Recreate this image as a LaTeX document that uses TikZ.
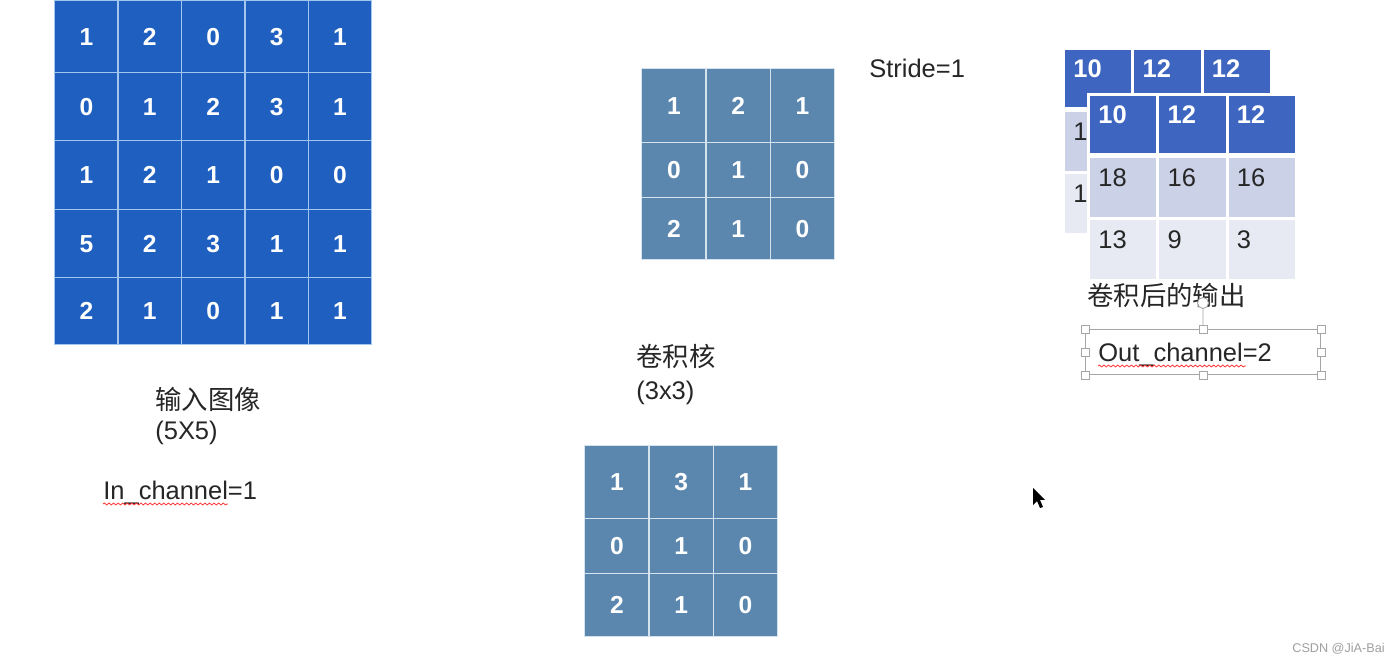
\documentclass[tikz,border=0pt]{standalone}
\usepackage{fontspec}
\setmainfont{Liberation Sans}
\newfontfamily\cjk{Noto Sans CJK SC}
\usepackage{xcolor}
\usepackage{tikz}
\usetikzlibrary{positioning, calc, decorations.pathmorphing}
\definecolor{inblue}{HTML}{1F5FBF}
\definecolor{inline}{HTML}{A3C6EE}
\definecolor{kblue}{HTML}{5B86AD}
\definecolor{kline}{HTML}{D5E3EF}
\definecolor{outhead}{HTML}{3E65BF}
\definecolor{outmid}{HTML}{CBD1E7}
\definecolor{outlow}{HTML}{E7E9F3}
\tikzstyle{cell} = [rectangle, anchor=north west, inner sep=0pt, line width=0.8pt]
\tikzstyle{incell} = [cell, draw=inline, fill=inblue, text=white, minimum width=1.268cm, font=\bfseries\fontsize{14}{14}\selectfont]
\tikzstyle{kcell} = [cell, draw=kline, fill=kblue, text=white, minimum width=1.286cm, font=\bfseries\fontsize{14}{14}\selectfont]
\tikzstyle{outcell} = [cell, draw=white, line width=1.8pt, minimum width=1.386cm, minimum height=1.24cm]
\tikzstyle{headnum} = [anchor=base west, inner sep=0pt, text=white, font=\bfseries\fontsize{14.5}{14}\selectfont]
\tikzstyle{bodynum} = [anchor=base west, inner sep=0pt, text=black!85, font=\fontsize{14.5}{14}\selectfont]
\tikzstyle{txt} = [anchor=base west, inner sep=0pt, text=black!85, font=\fontsize{14.5}{17}\selectfont]
\tikzstyle{cjktxt} = [txt, font=\cjk\fontsize{15}{18}\selectfont]
\tikzstyle{selbox} = [rectangle, draw=gray!70, line width=0.6pt, anchor=north west, inner sep=0pt, minimum width=4.7cm, minimum height=0.9cm]
\tikzstyle{handle} = [rectangle, draw=gray!70, fill=white, line width=0.5pt, minimum size=0.16cm, inner sep=0pt]
\tikzstyle{rothandle} = [circle, draw=gray!70, fill=white, line width=0.5pt, minimum size=0.22cm, inner sep=0pt]
\tikzstyle{squiggle} = [draw=red!80, line width=0.45pt, decorate, decoration={snake, amplitude=0.55pt, segment length=2.6pt}]

\begin{document}
\begin{tikzpicture}[x=0.02cm, y=-0.02cm]
    \useasboundingbox (0,0) rectangle (1394,665);
    \fill[white] (0,0) rectangle (1394,665);

    % Input image 5x5
    \foreach \yt/\h/\vals [count=\r] in {0/72/{1,2,0,3,1}, 72/68/{0,1,2,3,1}, 140/69/{1,2,1,0,0}, 209/68/{5,2,3,1,1}, 277/67/{2,1,0,1,1}} {
        \foreach \v [count=\c] in \vals {
            \node (in-\r-\c) [incell, minimum height=\h*0.02cm] at ({54+63.4*(\c-1)}, \yt) {\v};
        }
    }

    % Kernels 3x3
    \foreach \yt/\h/\vals [count=\r] in {0/74/{1,2,1}, 74/55/{0,1,0}, 129/62/{2,1,0}} {
        \foreach \v [count=\c] in \vals {
            \node (ka-\r-\c) [kcell, minimum height=\h*0.02cm] at ({641+64.3*(\c-1)}, {68+\yt}) {\v};
        }
    }
    \foreach \yt/\h/\vals [count=\r] in {0/73/{1,3,1}, 73/55/{0,1,0}, 128/63/{2,1,0}} {
        \foreach \v [count=\c] in \vals {
            \node (kb-\r-\c) [kcell, minimum height=\h*0.02cm] at ({584+64.3*(\c-1)}, {445+\yt}) {\v};
        }
    }

    % Output maps (two channels)
    \foreach \tbl/\ox/\oy in {back/1062/47, front/1087/93} {
        \foreach \v [count=\c] in {10,12,12} {
            \node (\tbl-h-\c) [outcell, fill=outhead, minimum height=1.2cm] at ({\ox+69.3*(\c-1)}, \oy) {};
            \node (\tbl-h-\c-v) [headnum] at ({\ox+69.3*(\c-1)+11}, {\oy+31}) {\v};
        }
        \foreach \yt/\fillc/\vals [count=\r] in {62/outmid/{18,16,16}, 124/outlow/{13,9,3}} {
            \foreach \v [count=\c] in \vals {
                \node (\tbl-\r-\c) [outcell, fill=\fillc] at ({\ox+69.3*(\c-1)}, {\oy+\yt}) {};
                \node (\tbl-\r-\c-v) [bodynum] at ({\ox+69.3*(\c-1)+11}, {\oy+\yt+32}) {\v};
            }
        }
    }

    % Labels
    \node (stride) [txt] at (869,78) {Stride=1};
    \node (intitle) [cjktxt] at (155,410) {输入图像};
    \node (insize) [txt] at (155,440) {(5X5)};
    \node (inch) [txt] at (103,500) {In\_channel=1};
    \node (ktitle) [cjktxt] at (636,367) {卷积核};
    \node (ksize) [txt] at (636,400) {(3x3)};
    \node (outtitle) [cjktxt] at (1087,306) {卷积后的输出};

    % Selected text box
    \node (outbox) [selbox] at (1085,329) {};
    \node (outch) [txt] at (1098,362) {Out\_channel=2};
    \node (rot) [rothandle] at (1203,303) {};
    \draw[gray!70, line width=0.5pt] (outbox.north) -- (rot);
    \foreach \a [count=\i] in {north west, north, north east, west, east, south west, south, south east} {
        \node (hd-\i) [handle] at (outbox.\a) {};
    }

    % Spelling marks
    \coordinate (sq1a) at (103,504);
    \coordinate (sq1b) at (228,504);
    \coordinate (sq2a) at (1098,366);
    \coordinate (sq2b) at (1246,366);
    \draw[squiggle] (sq1a) -- (sq1b);
    \draw[squiggle] (sq2a) -- (sq2b);

    % Mouse pointer
    \fill[black] (1033,488) -- (1033,505) -- (1037,501) -- (1040,508) -- (1043,507) -- (1040,500) -- (1045,500) -- cycle;

    \node (mark) [anchor=base east, inner sep=0pt, text=gray!75, font=\fontsize{7.2}{8}\selectfont] at (1385,652) {CSDN @JiA-Bai};
\end{tikzpicture}
\end{document}
